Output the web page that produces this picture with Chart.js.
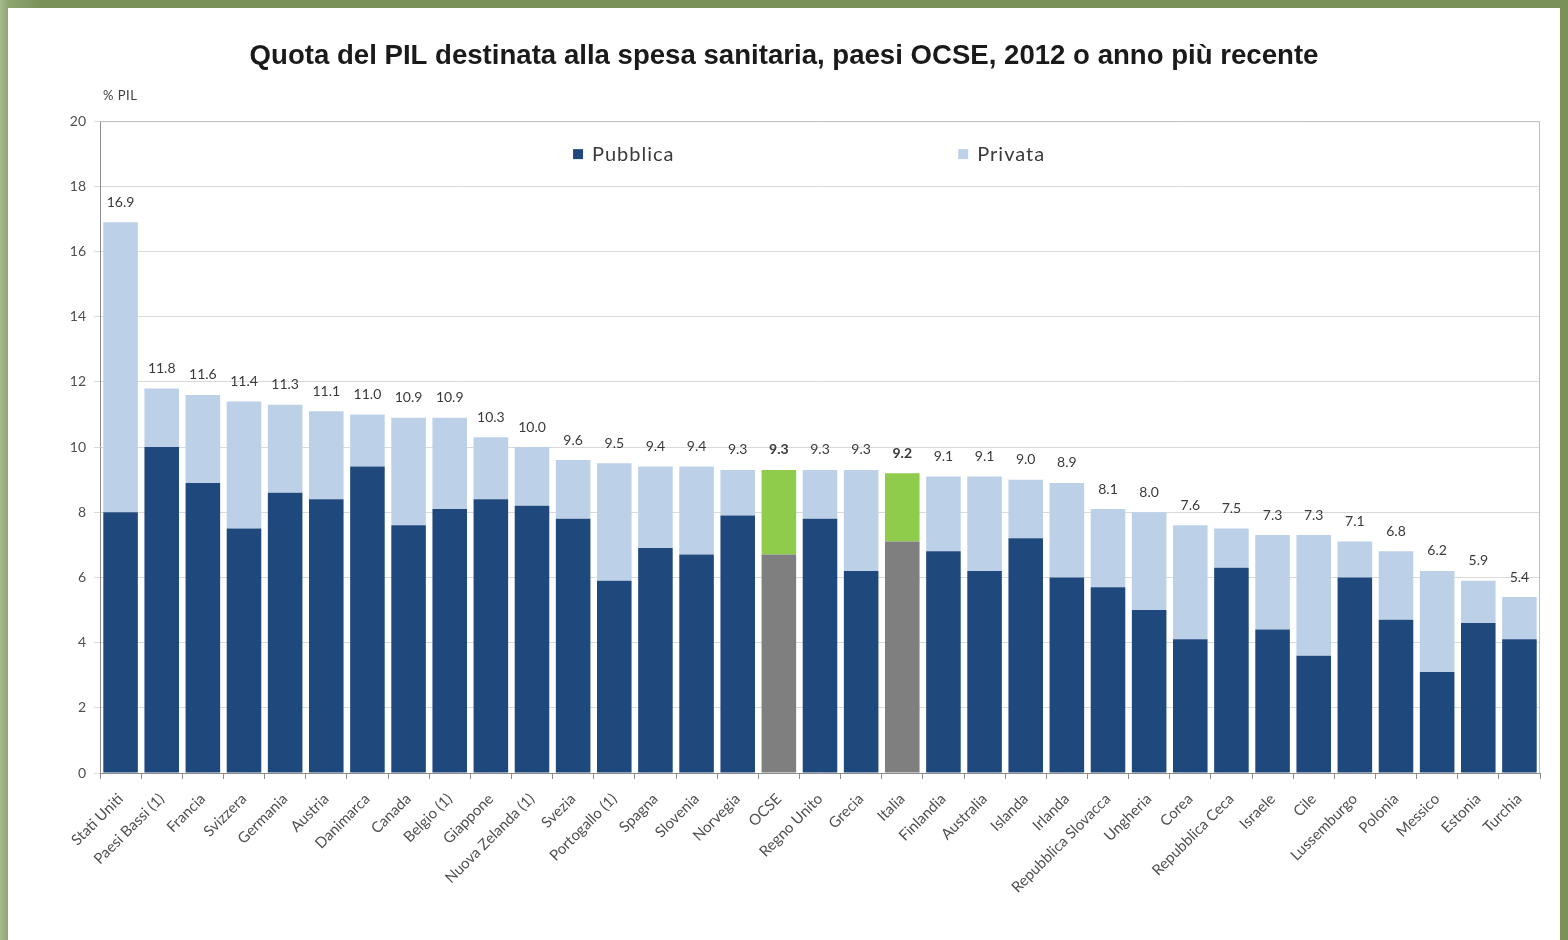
<!DOCTYPE html>
<html>
<head>
<meta charset="utf-8">
<script src="https://cdn.jsdelivr.net/npm/chart.js@4"></script>
<style>
  html, body { margin: 0; padding: 0; }
  body {
    width: 1568px; height: 940px; overflow: hidden;
    background: linear-gradient(90deg, #a6b98c 0px, #8fa672 8px, #7b915a 40px);
    position: relative;
  }
  #box {
    position: absolute; left: 8px; top: 8px;
    width: 1552px; height: 932px; background: #fff;
  }
</style>
</head>
<body>
<div id="box"><canvas id="chart" width="1552" height="932"></canvas></div>
<script>
const paesi = [
  "Stati Uniti", "Paesi Bassi (1)", "Francia", "Svizzera", "Germania", "Austria",
  "Danimarca", "Canada", "Belgio (1)", "Giappone", "Nuova Zelanda (1)", "Svezia",
  "Portogallo (1)", "Spagna", "Slovenia", "Norvegia", "OCSE", "Regno Unito",
  "Grecia", "Italia", "Finlandia", "Australia", "Islanda", "Irlanda",
  "Repubblica Slovacca", "Ungheria", "Corea", "Repubblica Ceca", "Israele", "Cile",
  "Lussemburgo", "Polonia", "Messico", "Estonia", "Turchia"
];

const pubblica = [
  8.0, 10.0, 8.9, 7.5, 8.6, 8.4,
  9.4, 7.6, 8.1, 8.4, 8.2, 7.8,
  5.9, 6.9, 6.7, 7.9, 6.7, 7.8,
  6.2, 7.1, 6.8, 6.2, 7.2, 6.0,
  5.7, 5.0, 4.1, 6.3, 4.4, 3.6,
  6.0, 4.7, 3.1, 4.6, 4.1
];

const privata = [
  8.9, 1.8, 2.7, 3.9, 2.7, 2.7,
  1.6, 3.3, 2.8, 1.9, 1.8, 1.8,
  3.6, 2.5, 2.7, 1.4, 2.6, 1.5,
  3.1, 2.1, 2.3, 2.9, 1.8, 2.9,
  2.4, 3.0, 3.5, 1.2, 2.9, 3.7,
  1.1, 2.1, 3.1, 1.3, 1.3
];

const totale = [
  "16.9", "11.8", "11.6", "11.4", "11.3", "11.1",
  "11.0", "10.9", "10.9", "10.3", "10.0", "9.6",
  "9.5", "9.4", "9.4", "9.3", "9.3", "9.3",
  "9.3", "9.2", "9.1", "9.1", "9.0", "8.9",
  "8.1", "8.0", "7.6", "7.5", "7.3", "7.3",
  "7.1", "6.8", "6.2", "5.9", "5.4"
];

const evidenziati = ["OCSE", "Italia"];

const BLU = "#1f497d";
const AZZURRO = "#bcd0e8";
const GRIGIO = "#7f7f7f";
const VERDE = "#8fcc4c";

// totali sopra le barre + legenda dentro l'area
const extras = {
  id: "extras",
  afterDatasetsDraw(chart) {
    const ctx = chart.ctx;
    const meta = chart.getDatasetMeta(1);
    ctx.save();
    ctx.textAlign = "center";
    ctx.textBaseline = "middle";
    ctx.fillStyle = "#3a3a3a";
    meta.data.forEach((bar, i) => {
      const bold = evidenziati.includes(paesi[i]);
      ctx.font = (bold ? "bold " : "") + "14px Lato";
      ctx.fillText(totale[i], bar.x, bar.y - 20);
    });

    const a = chart.chartArea;
    ctx.strokeStyle = "#c0c0c0";
    ctx.lineWidth = 1;
    ctx.beginPath();
    ctx.moveTo(a.left, a.top + 0.5);
    ctx.lineTo(a.right - 0.5, a.top + 0.5);
    ctx.lineTo(a.right - 0.5, a.bottom);
    ctx.stroke();

    const leg = [["Pubblica", BLU, 0.3285], ["Privata", AZZURRO, 0.596]];
    const ly = a.top + 33;
    ctx.textAlign = "left";
    ctx.font = "20px Lato";
    ctx.letterSpacing = "1px";
    leg.forEach(([txt, col, f]) => {
      const lx = a.left + (a.right - a.left) * f;
      ctx.fillStyle = col;
      ctx.fillRect(lx, ly - 5, 10, 10);
      ctx.fillStyle = "#3a3a3a";
      ctx.fillText(txt, lx + 19, ly);
    });

    ctx.font = "13px Lato";
    ctx.letterSpacing = "0.5px";
    ctx.fillStyle = "#404040";
    ctx.fillText("% PIL", 95, a.top - 25);
    ctx.restore();
  }
};

new Chart(document.getElementById("chart"), {
  type: "bar",
  data: {
    labels: paesi,
    datasets: [
      {
        label: "Pubblica",
        data: pubblica,
        backgroundColor: paesi.map(p => evidenziati.includes(p) ? GRIGIO : BLU),
        barPercentage: 0.84,
        categoryPercentage: 1
      },
      {
        label: "Privata",
        data: privata,
        backgroundColor: paesi.map(p => evidenziati.includes(p) ? VERDE : AZZURRO),
        barPercentage: 0.84,
        categoryPercentage: 1
      }
    ]
  },
  options: {
    responsive: false,
    animation: false,
    layout: { padding: { left: 20, right: 20, top: 0, bottom: 0 } },
    plugins: {
      legend: { display: false },
      tooltip: { enabled: false },
      title: {
        display: true,
        text: "Quota del PIL destinata alla spesa sanitaria, paesi OCSE, 2012 o anno più recente",
        color: "#1a1a1a",
        font: { family: "Liberation Sans", size: 27.6, weight: "bold" },
        padding: { top: 32, bottom: 48 }
      }
    },
    scales: {
      x: {
        stacked: true,
        grid: { display: true, drawOnChartArea: false, offset: true, tickLength: 6, color: "#8c8c8c" },
        border: { color: "#8c8c8c" },
        ticks: {
          minRotation: 45, maxRotation: 45, autoSkip: false,
          color: "#505050", font: { family: "Lato", size: 15 }, padding: 11
        },
        afterFit(scale) { scale.height = 167; }
      },
      y: {
        stacked: true,
        min: 0, max: 20,
        ticks: { stepSize: 2, color: "#505050", font: { family: "Lato", size: 14 }, padding: 8 },
        grid: { color: "#d9d9d9", tickLength: 6 },
        border: { color: "#8c8c8c" },
        afterFit(scale) { scale.width = 72; }
      }
    }
  },
  plugins: [extras]
});
</script>
</body>
</html>
